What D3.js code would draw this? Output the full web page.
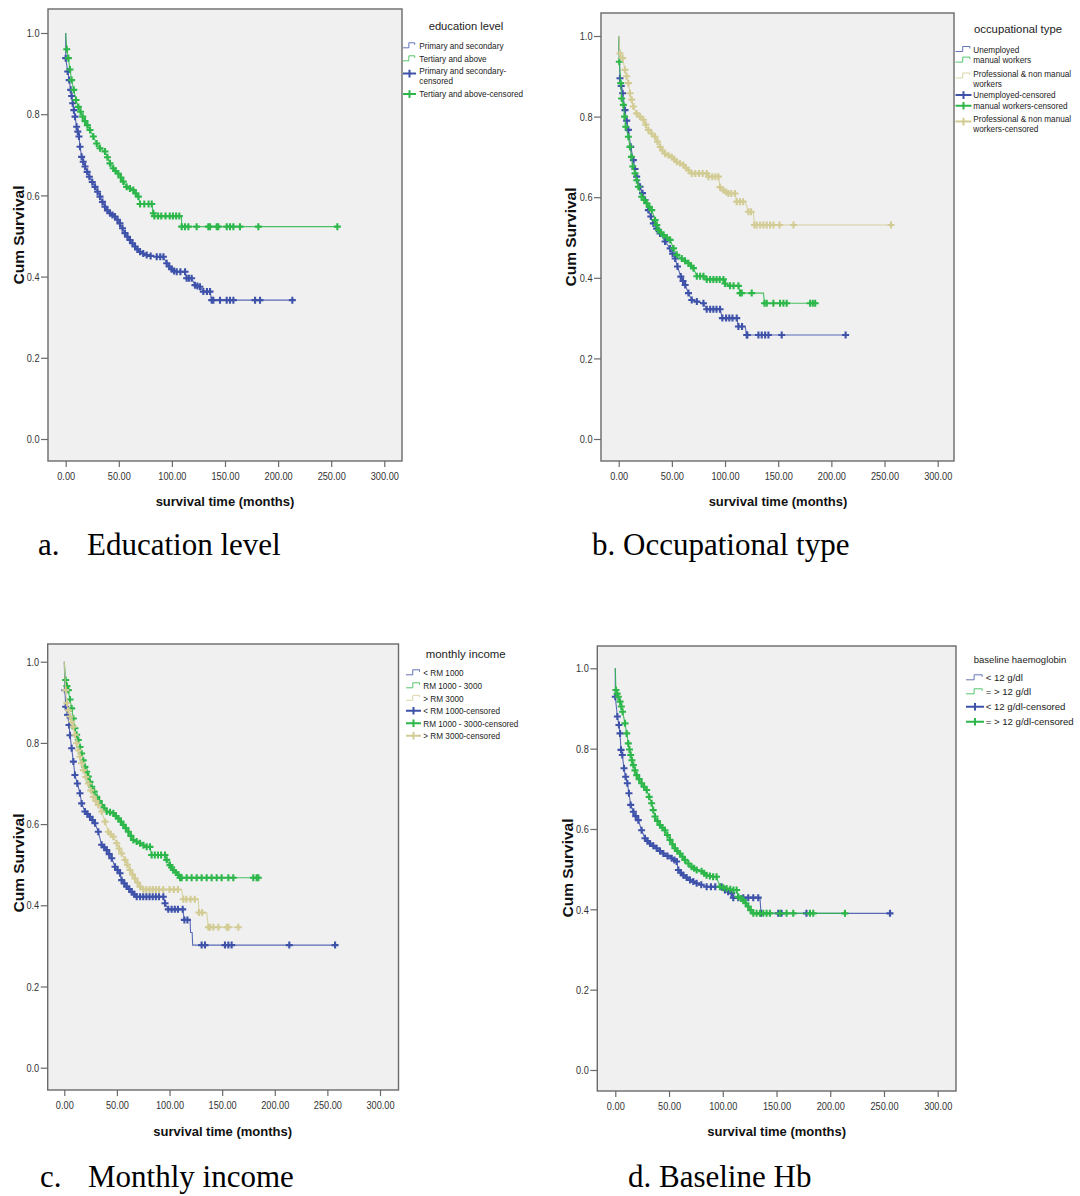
<!DOCTYPE html>
<html>
<head>
<meta charset="utf-8">
<script src="https://cdn.jsdelivr.net/npm/d3@7"></script>
<style>
  body { margin: 0; background: #fff; }
  svg text { font-family: "Liberation Sans", Arial, sans-serif; }
</style>
</head>
<body>
<svg id="chart" width="1080" height="1196"></svg>
<script>
// Kaplan-Meier curves: [time (months), cum survival, censored mark 1/0]
const eduPrimary = [[0,1,0],[0,0.938,1],[1.9,0.905,1],[3.3,0.884,1],[4.7,0.86,1],[5.6,0.845,1],[6.6,0.827,1],[7.7,0.81,1],[8.8,0.794,1],[10.3,0.769,1],[11.4,0.757,1],[12.5,0.745,1],[13.5,0.72,1],[15,0.695,1],[16.5,0.683,1],[18.2,0.671,1],[20.2,0.658,1],[22.3,0.646,1],[25,0.633,1],[27.6,0.621,1],[30,0.609,1],[32.3,0.597,1],[34.6,0.584,1],[37,0.572,1],[39.3,0.563,1],[41.7,0.556,1],[44,0.552,1],[46.4,0.548,1],[48.8,0.54,1],[51.1,0.531,1],[53.5,0.519,1],[55.8,0.507,1],[58.2,0.498,1],[60.5,0.49,1],[62.9,0.482,1],[65.3,0.474,1],[67.6,0.467,1],[70,0.461,1],[73,0.457,1],[76.3,0.453,1],[80,0.451,1],[85.7,0.449,1],[89,0.449,1],[92,0.449,1],[95.1,0.433,1],[97.5,0.425,1],[99.8,0.418,1],[102,0.414,1],[104.5,0.412,1],[108,0.412,1],[112.4,0.412,1],[113.9,0.396,1],[116,0.396,1],[118.6,0.396,1],[121.7,0.379,1],[124,0.377,1],[126.4,0.375,1],[129.6,0.363,1],[133,0.363,1],[135.9,0.363,1],[137.5,0.342,1],[139,0.342,1],[145.3,0.342,1],[151.6,0.342,1],[154.7,0.342,1],[157.9,0.342,1],[178.3,0.342,1],[183,0.342,1],[213.4,0.342,1]];
const eduTertiary = [[0,1,0],[1,0.96,1],[2.5,0.938,1],[4,0.91,1],[5.6,0.884,1],[7.6,0.86,1],[9.7,0.835,1],[11.9,0.818,1],[14,0.806,1],[16,0.794,1],[18.2,0.783,1],[20.4,0.773,1],[22.9,0.761,1],[26,0.745,1],[29.2,0.728,1],[32.3,0.716,1],[37,0.708,1],[39.3,0.694,1],[41.7,0.679,1],[44.8,0.667,1],[47,0.66,1],[49.5,0.654,1],[52,0.644,1],[54.2,0.634,1],[57.4,0.621,1],[60.5,0.617,1],[63.7,0.613,1],[66,0.605,1],[68.4,0.597,1],[70,0.579,1],[74,0.579,1],[78,0.579,1],[81,0.579,1],[82.5,0.556,1],[83.5,0.549,1],[87,0.549,1],[90,0.549,1],[94,0.549,1],[98,0.549,1],[101,0.549,1],[104,0.549,1],[107,0.549,1],[109,0.549,0],[109.2,0.523,1],[112.3,0.523,1],[115.5,0.523,1],[123.3,0.523,1],[134.3,0.523,1],[135.9,0.523,1],[142.2,0.523,1],[143.7,0.523,1],[151.6,0.523,1],[154.7,0.523,1],[157.9,0.523,1],[164.1,0.523,1],[181.4,0.523,1],[255.8,0.523,1]];

const occUnemployed = [[0,1,0],[1.2,0.895,1],[2.4,0.876,1],[3.7,0.858,1],[5.9,0.816,1],[7.5,0.79,1],[9.1,0.767,1],[11.3,0.725,1],[13.8,0.692,1],[15.3,0.67,1],[16.9,0.651,1],[20.1,0.626,1],[22.4,0.61,1],[24.8,0.593,1],[27.9,0.568,1],[30.2,0.552,1],[32.6,0.535,1],[35.7,0.522,1],[38.9,0.51,1],[43.6,0.49,1],[48.4,0.473,1],[50.7,0.46,1],[53.1,0.448,1],[55.3,0.428,1],[58.4,0.403,1],[60.5,0.392,1],[62.5,0.382,1],[65.6,0.362,1],[68.7,0.345,1],[73.5,0.341,1],[79.7,0.337,1],[82.8,0.322,1],[86,0.322,1],[89,0.322,1],[92,0.322,1],[95.3,0.322,1],[97.5,0.3,1],[101,0.3,1],[104,0.3,1],[107,0.3,1],[111,0.3,1],[112.6,0.279,1],[116,0.279,1],[118.9,0.279,0],[120.4,0.258,1],[121,0.258,1],[131.4,0.258,1],[134.5,0.258,1],[137.7,0.258,1],[140.8,0.258,1],[153.3,0.258,1],[213.4,0.258,1]];
const occManual = [[0,1,0],[0.6,0.936,1],[1.9,0.883,1],[2.8,0.845,1],[4.4,0.829,1],[5.5,0.8,1],[6.6,0.775,1],[9.1,0.75,1],[10.6,0.725,1],[12,0.7,1],[13.2,0.676,1],[15.4,0.659,1],[17,0.642,1],[18.5,0.626,1],[21.6,0.601,1],[24,0.593,1],[26.4,0.585,1],[28.8,0.576,1],[31.1,0.568,1],[34.2,0.543,1],[35.8,0.531,1],[37.4,0.519,1],[39.8,0.512,1],[42.1,0.506,1],[45.3,0.5,1],[48.4,0.494,1],[51.5,0.473,1],[54.6,0.457,1],[59.3,0.448,1],[62.4,0.442,1],[65.6,0.436,1],[68,0.43,1],[70.3,0.424,1],[73.5,0.404,1],[76.6,0.404,1],[79.7,0.404,1],[82.8,0.396,1],[86,0.396,1],[89,0.396,1],[92,0.396,1],[95,0.396,1],[98.5,0.396,1],[100,0.386,1],[104.7,0.38,1],[108,0.38,1],[112.6,0.38,1],[114.1,0.362,1],[115.7,0.362,1],[125.1,0.362,1],[136.1,0.362,0],[137.1,0.337,1],[139.2,0.337,1],[145.5,0.337,1],[151.7,0.337,1],[154.9,0.337,1],[158,0.337,1],[180,0.337,1],[182.5,0.337,1],[184.8,0.337,1]];
const occProfessional = [[0,1,0],[1.2,0.957,1],[3.7,0.945,1],[5.9,0.916,1],[7.5,0.9,1],[9.1,0.883,1],[10.6,0.858,1],[12.2,0.842,1],[13.8,0.825,1],[16.9,0.808,1],[20,0.8,1],[23.2,0.792,1],[25.5,0.78,1],[27.9,0.767,1],[31,0.758,1],[34.2,0.75,1],[36.5,0.738,1],[38.9,0.725,1],[41.2,0.716,1],[43.6,0.708,1],[46.8,0.704,1],[49.9,0.7,1],[52.2,0.694,1],[54.6,0.688,1],[57.7,0.684,1],[60.9,0.68,1],[63.2,0.673,1],[65.6,0.667,1],[68.7,0.659,1],[72,0.659,1],[75.5,0.659,1],[79,0.659,1],[82.8,0.659,1],[84.4,0.651,1],[88,0.651,1],[91,0.651,1],[93.8,0.651,1],[95.3,0.625,1],[98.5,0.617,1],[101,0.613,1],[103.2,0.609,1],[106,0.609,1],[109.4,0.609,1],[111,0.589,1],[114,0.589,1],[117,0.589,1],[118.9,0.589,0],[122,0.564,1],[124.5,0.564,1],[126.7,0.564,0],[127.6,0.531,1],[129.8,0.531,1],[133,0.531,1],[136.1,0.531,1],[139.2,0.531,1],[142.4,0.531,1],[145.5,0.531,1],[151.2,0.531,1],[164.4,0.531,1],[256.1,0.531,1]];

const incLow = [[0,1,0],[0.6,0.93,1],[1.3,0.889,1],[3.2,0.869,1],[4.5,0.844,1],[5.4,0.819,1],[7,0.787,1],[8.6,0.754,1],[10.1,0.721,1],[12.4,0.7,1],[14.9,0.676,1],[16.5,0.651,1],[19.6,0.631,1],[22,0.625,1],[24.4,0.618,1],[26.8,0.61,1],[29.2,0.602,1],[32.3,0.581,1],[35.5,0.549,1],[37.9,0.543,1],[40.3,0.536,1],[42.7,0.526,1],[45.1,0.516,1],[48.2,0.495,1],[50.6,0.487,1],[53,0.479,1],[54.5,0.462,1],[57,0.454,1],[59.3,0.446,1],[61.7,0.44,1],[64.1,0.433,1],[66.5,0.427,1],[68.8,0.421,1],[72,0.421,1],[75,0.421,1],[78,0.421,1],[81,0.421,1],[84,0.421,1],[87,0.421,1],[90,0.421,1],[94.1,0.421,1],[95.7,0.405,1],[98.8,0.39,1],[102,0.39,1],[105,0.39,1],[108,0.39,1],[112.5,0.39,1],[114.1,0.364,1],[117,0.364,1],[119.5,0.364,0],[120,0.333,0],[121.5,0.333,0],[122,0.302,0],[130.5,0.302,1],[133.7,0.302,1],[152.7,0.302,1],[155.9,0.302,1],[159,0.302,1],[213.8,0.302,1],[257.3,0.302,1]];
const incMid = [[0,1,0],[1.3,0.955,1],[2.5,0.94,1],[3.8,0.93,1],[5.4,0.907,1],[7,0.885,1],[8.6,0.86,1],[10.1,0.836,1],[11.7,0.82,1],[13.3,0.807,1],[14.9,0.79,1],[16.5,0.774,1],[18,0.757,1],[19.6,0.741,1],[21.2,0.729,1],[22.8,0.717,1],[24.4,0.704,1],[26,0.692,1],[28.4,0.68,1],[30.8,0.667,1],[33.2,0.657,1],[35.6,0.647,1],[38,0.639,1],[40.3,0.631,1],[43.5,0.629,1],[46.6,0.627,1],[49,0.62,1],[51.4,0.614,1],[53.8,0.606,1],[56.1,0.598,1],[58.5,0.59,1],[60.9,0.581,1],[63.3,0.571,1],[65.6,0.561,1],[68.8,0.557,1],[72,0.553,1],[75.2,0.548,1],[78.3,0.544,1],[81.4,0.544,1],[83,0.524,1],[86,0.524,1],[89,0.524,1],[92,0.524,1],[95.7,0.524,1],[97.3,0.512,1],[100.4,0.499,1],[102,0.493,1],[103.6,0.487,1],[106,0.481,1],[108.4,0.475,1],[110,0.468,1],[111.5,0.468,1],[116.3,0.468,1],[121,0.468,1],[125.8,0.468,1],[130.5,0.468,1],[135.3,0.468,1],[140,0.468,1],[144.8,0.468,1],[149.5,0.468,1],[155.9,0.468,1],[160.6,0.468,1],[179.6,0.468,1],[182.8,0.468,1],[184.4,0.468,1]];
const incHigh = [[0,1,0],[1.3,0.93,1],[2.5,0.898,1],[4,0.88,1],[5.4,0.865,1],[7,0.852,1],[8.6,0.84,1],[10.1,0.82,1],[11.7,0.799,1],[13.3,0.782,1],[14.9,0.766,1],[16.5,0.75,1],[18.1,0.733,1],[20.4,0.716,1],[22.8,0.7,1],[25.2,0.683,1],[27.6,0.667,1],[30,0.657,1],[32.3,0.647,1],[35.5,0.631,1],[38.7,0.606,1],[41.8,0.581,1],[44.2,0.575,1],[46.6,0.569,1],[49.8,0.553,1],[52,0.54,1],[54.5,0.528,1],[57.7,0.512,1],[60,0.5,1],[62.4,0.487,1],[64.8,0.476,1],[67.2,0.466,1],[69.6,0.456,1],[72,0.446,1],[75.1,0.439,1],[78,0.439,1],[81,0.439,1],[84,0.439,1],[87,0.439,1],[90,0.439,1],[94,0.439,1],[100,0.439,1],[104,0.439,1],[108,0.439,1],[111.5,0.439,0],[113.1,0.415,1],[116,0.415,1],[120,0.415,1],[124,0.415,1],[127.3,0.415,0],[128,0.382,1],[131,0.382,1],[135.3,0.382,0],[136.9,0.346,1],[138.4,0.346,1],[141.6,0.346,1],[146.4,0.346,1],[154.3,0.346,1],[155.9,0.346,1],[165.4,0.346,1]];

const hbLow = [[0,1,0],[0,0.929,1],[1.9,0.88,1],[3.4,0.859,1],[4.4,0.838,1],[5.3,0.797,1],[6.5,0.784,1],[8.1,0.751,1],[9.6,0.73,1],[11.2,0.714,1],[12.7,0.689,1],[14.3,0.66,1],[16.8,0.643,1],[19,0.632,1],[21.4,0.622,1],[24.5,0.597,1],[27.6,0.577,1],[30,0.57,1],[32.3,0.564,1],[35.4,0.558,1],[38.5,0.552,1],[41.6,0.545,1],[44.7,0.539,1],[48.6,0.533,1],[52.5,0.527,1],[55,0.523,1],[57.1,0.519,1],[58.7,0.498,1],[61,0.491,1],[63.3,0.485,1],[66.4,0.479,1],[69.5,0.473,1],[72.6,0.469,1],[75.7,0.465,1],[80,0.461,1],[85,0.456,1],[89,0.456,1],[93,0.456,1],[98.9,0.456,1],[102,0.448,1],[105,0.444,1],[108.2,0.44,1],[109.8,0.429,1],[114.4,0.429,1],[119.1,0.429,1],[123.7,0.429,1],[128.4,0.429,1],[133,0.429,1],[134.6,0.429,0],[135.6,0.39,1],[151.6,0.39,1],[154.7,0.39,1],[177.9,0.39,1],[255.6,0.39,1]];
const hbHigh = [[0,1,0],[0.6,0.946,1],[1.7,0.937,1],[2.8,0.929,1],[4.4,0.917,1],[5.6,0.905,1],[6.8,0.892,1],[9,0.863,1],[10.6,0.838,1],[12.1,0.813,1],[13.2,0.798,1],[14.3,0.784,1],[15.5,0.771,1],[16.8,0.759,1],[18.3,0.746,1],[19.9,0.734,1],[22.2,0.724,1],[24.5,0.714,1],[26.8,0.705,1],[29.2,0.697,1],[31.5,0.68,1],[33.8,0.664,1],[35.3,0.647,1],[36.9,0.631,1],[39.2,0.62,1],[41.6,0.61,1],[43.9,0.603,1],[46.2,0.597,1],[48.5,0.585,1],[50.9,0.573,1],[53.2,0.562,1],[55.5,0.552,1],[57.8,0.545,1],[60.2,0.539,1],[62.5,0.531,1],[64.8,0.523,1],[68,0.514,1],[71,0.506,1],[73.3,0.502,1],[75.7,0.498,1],[80.3,0.495,1],[82.6,0.49,1],[84.9,0.485,1],[88,0.483,1],[91,0.481,1],[94.2,0.481,1],[97.4,0.456,1],[100.5,0.454,1],[103.6,0.452,1],[107,0.45,1],[110,0.448,1],[112.9,0.448,1],[114.4,0.431,1],[117,0.427,1],[119.1,0.423,1],[121.4,0.415,1],[123.7,0.407,1],[126,0.398,1],[128.4,0.39,1],[131.5,0.39,1],[134.6,0.39,1],[137.7,0.39,1],[140.8,0.39,1],[143.9,0.39,1],[153.2,0.39,1],[159.4,0.39,1],[165.6,0.39,1],[181.1,0.39,1],[184.2,0.39,1],[213.7,0.39,1]];

const xTicks = [0, 50, 100, 150, 200, 250, 300];
const yTicks = [0, 0.2, 0.4, 0.6, 0.8, 1.0];

// legend texts ("\n" = line break in the legend)
const eduLegend = ["Primary and secondary", "Tertiary and above", "Primary and secondary-\ncensored", "Tertiary and above-censored"];
const occLegend = ["Unemployed", "manual workers", "Professional & non manual\nworkers", "Unemployed-censored", "manual workers-censored", "Professional & non manual\nworkers-censored"];
const incLegend = ["< RM 1000", "RM 1000 - 3000", "> RM 3000", "< RM 1000-censored", "RM 1000 - 3000-censored", "> RM 3000-censored"];
const hbLegend = ["< 12 g/dl", "= > 12 g/dl", "< 12 g/dl-censored", "= > 12 g/dl-censored"];

const BLUE = "#3e52aa", GREEN = "#2db74a", BEIGE = "#d2cc94";

const panels = [
  { series: [eduPrimary, eduTertiary], colors: [BLUE, GREEN], legendTitle: "education level", legend: eduLegend,
    frame: [48, 9, 402, 461], xr: [65.7, 384.3], yr: [439, 33], xTitle: [225, 506], yTitle: [24, 235],
    lg: { title: [466, 30], tSize: 11.2, sx: 403, sw: 13, tx: 419.3, size: 8.2, lh: 9.7, rows: [49, 62, 74.3, 97.3] },
    cap: [["a.", 38], ["Education level", 87]], capY: 555 },
  { series: [occUnemployed, occManual, occProfessional], colors: [BLUE, GREEN, BEIGE], legendTitle: "occupational type", legend: occLegend,
    frame: [601, 13, 954, 461], xr: [618.7, 937.7], yr: [439, 36], xTitle: [778, 506], yTitle: [576, 237],
    lg: { title: [1018, 33.3], tSize: 11.3, sx: 955.5, sw: 16, tx: 973.3, size: 8.2, lh: 10, rows: [52.7, 63.3, 76.7, 98.3, 109, 122.3] },
    cap: [["b. Occupational type", 592]], capY: 555 },
  { series: [incLow, incMid, incHigh], colors: [BLUE, GREEN, BEIGE], legendTitle: "monthly income", legend: incLegend,
    frame: [47.7, 644, 398.5, 1090], xr: [64.3, 380], yr: [1067.7, 661.7], xTitle: [222.7, 1135.7], yTitle: [23.5, 863],
    lg: { title: [465.7, 658.3], tSize: 11.4, sx: 406, sw: 15, tx: 423.3, size: 8.2, lh: 10, rows: [676, 689, 701.5, 714, 726.5, 739] },
    cap: [["c.", 40], ["Monthly income", 88]], capY: 1187 },
  { series: [hbLow, hbHigh], colors: [BLUE, GREEN], legendTitle: "baseline haemoglobin", legend: hbLegend,
    frame: [597.3, 646, 956, 1091], xr: [615.3, 937.7], yr: [1070, 668.3], xTitle: [776.7, 1135.7], yTitle: [573, 868],
    lg: { title: [1020, 663.3], tSize: 9.5, sx: 966, sw: 18, tx: 985.7, size: 9.6, lh: 10, rows: [681, 695, 710, 725] },
    cap: [["d. Baseline Hb", 628]], capY: 1187 }
];

const svg = d3.select("#chart");

// emulate the condensed SPSS tick font by squeezing text horizontally
function squeeze(sel, k) {
  sel.each(function () {
    const w = this.getComputedTextLength();
    d3.select(this).attr("textLength", w * k).attr("lengthAdjust", "spacingAndGlyphs");
  });
}

const plus = "M-3.5,0H3.5M0,-3.5V3.5";

panels.forEach(drawPanel);

function drawPanel(p) {
  const g = svg.append("g");
  const [fx0, fy0, fx1, fy1] = p.frame;
  const x = d3.scaleLinear().domain([0, 300]).range(p.xr);
  const y = d3.scaleLinear().domain([0, 1]).range(p.yr);

  g.append("rect")
    .attr("x", fx0).attr("y", fy0)
    .attr("width", fx1 - fx0).attr("height", fy1 - fy0)
    .attr("fill", "#f0f0f0");

  const xa = g.append("g")
    .attr("transform", `translate(0,${fy1})`)
    .call(d3.axisBottom(x).tickValues(xTicks).tickFormat(d3.format(".2f")).tickSize(6).tickPadding(5));
  const ya = g.append("g")
    .attr("transform", `translate(${fx0},0)`)
    .call(d3.axisLeft(y).tickValues(yTicks).tickFormat(d3.format(".1f")).tickSize(7).tickPadding(1.5));
  [xa, ya].forEach((a) => {
    a.select(".domain").remove();
    a.selectAll("line").attr("stroke", "#6a6a6a").attr("stroke-width", 1.2);
    a.selectAll("text").attr("font-size", 11.5).attr("fill", "#333")
      .style("font-family", '"Liberation Sans", Arial, sans-serif');
    squeeze(a.selectAll("text"), 0.8);
  });

  // survival curves
  const line = d3.line().x((d) => x(d[0])).y((d) => y(d[1]));
  p.series.forEach((s, i) => {
    const col = p.colors[i];
    g.append("path").datum(s)
      .attr("d", line).attr("fill", "none")
      .attr("stroke", col).attr("stroke-width", 1.1).attr("opacity", 0.85);
    g.append("g").selectAll("path")
      .data(s.filter((d) => d[2] === 1))
      .join("path")
      .attr("d", plus)
      .attr("transform", (d) => `translate(${x(d[0])},${y(d[1])})`)
      .attr("stroke", col).attr("stroke-width", 2.1).attr("fill", "none");
  });

  g.append("rect")
    .attr("x", fx0).attr("y", fy0)
    .attr("width", fx1 - fx0).attr("height", fy1 - fy0)
    .attr("fill", "none").attr("stroke", "#6a6a6a").attr("stroke-width", 1.4);

  // axis titles
  g.append("text")
    .attr("x", p.xTitle[0]).attr("y", p.xTitle[1])
    .attr("text-anchor", "middle").attr("font-size", 13).attr("font-weight", "bold").attr("fill", "#111")
    .text("survival time (months)");
  g.append("text")
    .attr("transform", `translate(${p.yTitle[0]},${p.yTitle[1]}) rotate(-90)`)
    .attr("text-anchor", "middle").attr("font-size", 15.5).attr("font-weight", "bold").attr("fill", "#111")
    .text("Cum Survival");

  // legend
  const lg = p.lg;
  g.append("text")
    .attr("x", lg.title[0]).attr("y", lg.title[1])
    .attr("text-anchor", "middle").attr("font-size", lg.tSize).attr("fill", "#222")
    .text(p.legendTitle);

  const nSeries = p.series.length;
  p.legend.forEach((label, j) => {
    const lines = label.split("\n");
    const base = lg.rows[j];
    const col = p.colors[j % nSeries];
    const censored = j >= nSeries;
    const yc = base - 3.2 + (lines.length - 1) * 2.5;
    if (!censored) {
      const a = lg.sx, w = lg.sw;
      g.append("path")
        .attr("d", `M${a},${yc + 2}H${a + w * 0.45}V${yc - 3}H${a + w * 0.9}V${yc - 1}`)
        .attr("fill", "none").attr("stroke", col).attr("stroke-width", 1).attr("opacity", 0.8);
    } else {
      g.append("path")
        .attr("d", `M${lg.sx},${yc}H${lg.sx + lg.sw}M${lg.sx + lg.sw / 2},${yc - 3.8}V${yc + 3.8}`)
        .attr("fill", "none").attr("stroke", col).attr("stroke-width", 2);
    }
    lines.forEach((ln, m) => {
      g.append("text")
        .attr("x", lg.tx).attr("y", base + m * lg.lh)
        .attr("font-size", lg.size).attr("fill", "#222")
        .text(ln);
    });
  });

  // caption under the panel
  p.cap.forEach(([txt, cx]) => {
    svg.append("text")
      .attr("x", cx).attr("y", p.capY)
      .attr("font-size", 31).attr("fill", "#000")
      .style("font-family", '"Liberation Serif", "Times New Roman", serif')
      .text(txt);
  });
}
</script>
</body>
</html>
